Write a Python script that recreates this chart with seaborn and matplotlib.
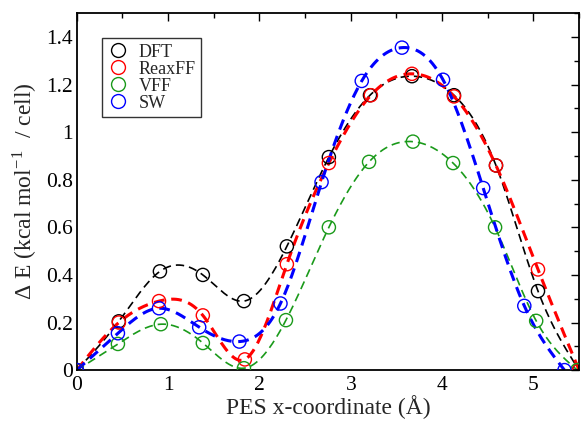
import numpy as np
import pandas as pd
import matplotlib
matplotlib.use("Agg")
import matplotlib.pyplot as plt
import seaborn as sns
from matplotlib.ticker import MultipleLocator, FuncFormatter
from matplotlib.lines import Line2D

# ---- data ----
x_dft = [0.0, 0.46, 0.91, 1.38, 1.83, 2.30, 2.76, 3.21, 3.67, 4.13, 4.59, 5.05, 5.50]
y_dft = [0.0, 0.205, 0.415, 0.40, 0.29, 0.52, 0.895, 1.155, 1.235, 1.155, 0.86, 0.332, 0.0]

x_reax = [0.0, 0.46, 0.90, 1.38, 1.84, 2.30, 2.76, 3.22, 3.67, 4.13, 4.59, 5.05, 5.50]
y_reax = [0.0, 0.20, 0.29, 0.23, 0.045, 0.445, 0.87, 1.155, 1.245, 1.15, 0.86, 0.423, 0.0]

x_vff = [0.0, 0.45, 0.92, 1.38, 1.83, 2.29, 2.76, 3.20, 3.68, 4.12, 4.58, 5.03, 5.48]
y_vff = [0.0, 0.11, 0.193, 0.114, 0.008, 0.21, 0.60, 0.875, 0.96, 0.87, 0.60, 0.207, 0.0]

x_sw = [0.0, 0.45, 0.90, 1.34, 1.78, 2.23, 2.68, 3.12, 3.56, 4.01, 4.45, 4.90, 5.34]
y_sw = [0.0, 0.155, 0.26, 0.18, 0.12, 0.28, 0.79, 1.215, 1.355, 1.22, 0.765, 0.27, 0.0]

labels = ["DFT", "ReaxFF", "VFF", "SW"]
colors = ["black", "red", "#1a9a1a", "blue"]


def natural_spline(x, y, n=400):
    x = np.asarray(x, float)
    y = np.asarray(y, float)
    m = len(x)
    h = np.diff(x)
    A = np.zeros((m, m))
    r = np.zeros(m)
    A[0, 0] = 1.0
    A[-1, -1] = 1.0
    for i in range(1, m - 1):
        A[i, i - 1] = h[i - 1]
        A[i, i] = 2 * (h[i - 1] + h[i])
        A[i, i + 1] = h[i]
        r[i] = 3 * ((y[i + 1] - y[i]) / h[i] - (y[i] - y[i - 1]) / h[i - 1])
    c = np.linalg.solve(A, r)
    b = (y[1:] - y[:-1]) / h - h * (2 * c[:-1] + c[1:]) / 3
    d = (c[1:] - c[:-1]) / (3 * h)
    xs = np.linspace(x[0], x[-1], n)
    idx = np.clip(np.searchsorted(x, xs) - 1, 0, m - 2)
    t = xs - x[idx]
    ys = y[idx] + b[idx] * t + c[idx] * t ** 2 + d[idx] * t ** 3
    return xs, ys


series = [(x_dft, y_dft), (x_reax, y_reax), (x_vff, y_vff), (x_sw, y_sw)]
line_w = [1.2, 2.2, 1.2, 2.2]
line_ls = [(0, (5, 3)), (0, (3.5, 2.2)), (0, (5, 3)), (0, (3.5, 2.2))]

sns.set_theme(style="white")
plt.rcParams["font.family"] = ["Liberation Serif", "DejaVu Serif"]
plt.rcParams["mathtext.fontset"] = "stix"

fig = plt.figure(figsize=(5.82, 4.23), dpi=100)
ax = fig.add_axes([0.132, 0.125, 0.863, 0.844])

for (xx, yy), lab, col, lw, ls in zip(series, labels, colors, line_w, line_ls):
    xs, ys = natural_spline(xx, yy)
    sns.lineplot(x=xs, y=ys, ax=ax, color=col, linewidth=lw, linestyle=ls,
                 sort=False, estimator=None, legend=False)
for (xx, yy), lab, col in zip(series, labels, colors):
    sns.scatterplot(x=xx, y=yy, ax=ax, marker="o", s=90, facecolors="none",
                    edgecolors=col, linewidth=1.0, legend=False, zorder=5)

ax.set_xlim(0, 5.5)
ax.set_ylim(0, 1.5)
ax.xaxis.set_major_locator(MultipleLocator(1))
ax.xaxis.set_minor_locator(MultipleLocator(0.5))
ax.yaxis.set_major_locator(MultipleLocator(0.2))
ax.yaxis.set_minor_locator(MultipleLocator(0.1))
fmt = FuncFormatter(lambda v, p: "%g" % round(v, 3))
ax.xaxis.set_major_formatter(fmt)
ax.yaxis.set_major_formatter(fmt)
ax.tick_params(which="both", direction="in", top=True, right=True,
               colors="black", labelsize=15.5, width=1.0)
ax.tick_params(which="major", length=6)
ax.tick_params(axis="y", which="major", pad=3)
ax.tick_params(axis="x", which="major", pad=4)
ax.tick_params(which="minor", length=3.5)
for s in ax.spines.values():
    s.set_color("black")
    s.set_linewidth(1.3)

ax.set_xlabel("PES x-coordinate (Å)", fontsize=17, labelpad=0)
ax.set_ylabel(r"Δ E (kcal mol$^{\mathregular{-1}}$  / cell)", fontsize=17, labelpad=4)

handles = [Line2D([], [], marker="o", linestyle="none", markersize=10,
                  markerfacecolor="none", markeredgecolor=c, markeredgewidth=1.0)
           for c in colors]
leg = ax.legend(handles, labels, loc="upper left", bbox_to_anchor=(0.05, 0.93),
                fontsize=13, frameon=True, fancybox=False, edgecolor="black",
                borderpad=0.3, handletextpad=0.55, labelspacing=0.0,
                handlelength=1.2, borderaxespad=0)
leg.get_frame().set_linewidth(1.0)

fig.savefig("out.png", dpi=100)
